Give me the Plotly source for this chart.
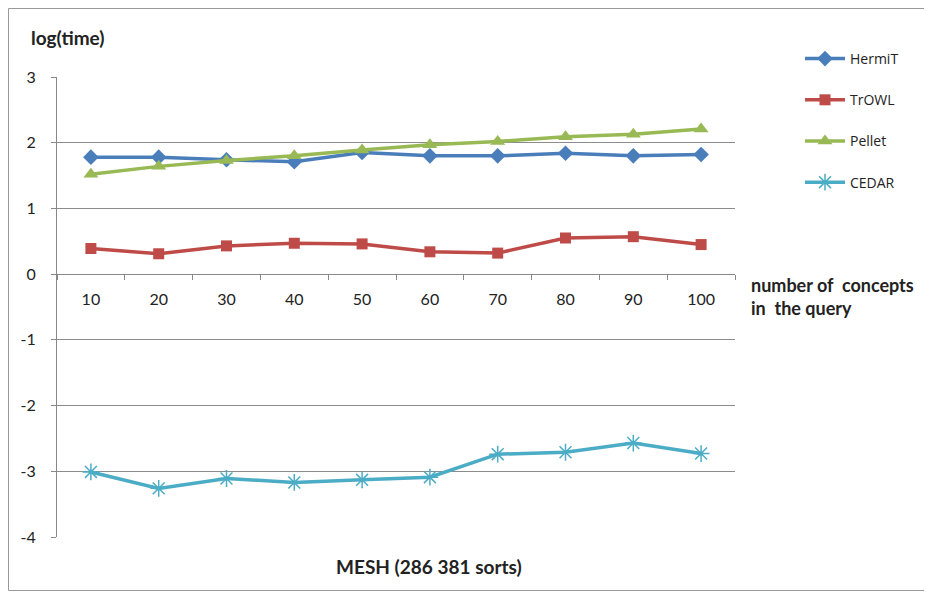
import plotly.graph_objects as go

categories = ["10", "20", "30", "40", "50", "60", "70", "80", "90", "100"]
hermit = [1.78, 1.78, 1.74, 1.71, 1.85, 1.80, 1.80, 1.84, 1.80, 1.82]
trowl = [0.39, 0.31, 0.43, 0.47, 0.46, 0.34, 0.32, 0.55, 0.57, 0.45]
pellet = [1.52, 1.64, 1.73, 1.80, 1.89, 1.97, 2.02, 2.09, 2.13, 2.21]
cedar = [-3.01, -3.26, -3.11, -3.17, -3.13, -3.09, -2.74, -2.71, -2.57, -2.73]
y_ticks = [-4, -3, -2, -1, 0, 1, 2, 3]
y_tick_labels = [str(v) for v in y_ticks]

# page has an 8px body margin; work in page coordinates and compensate
OFF = 8
W, H = 932 - OFF, 596 - OFF
L, R, T, B = 57, 735, 77, 537  # page coords of plot area
pw, ph = R - L, B - T

def px(x):
    return (x - L) / pw

def py(y):
    return (B - y) / ph

FONT = "Lato, 'Open Sans', sans-serif"

fig = go.Figure()
series = [
    ("HermiT", hermit, "#4A7EBB", "diamond", 12, 0),
    ("TrOWL", trowl, "#BE4B48", "square", 11, 0),
    ("Pellet", pellet, "#98B954", "triangle-up", 13, 0),
    ("CEDAR", cedar, "#4BACC6", "asterisk-open", 14, 1.5),
]
for name, vals, col, sym, sz, lw in series:
    fig.add_trace(go.Scatter(
        x=categories, y=vals, name=name, mode="lines+markers",
        legendgroup=name,
        line=dict(color=col, width=3.5),
        marker=dict(symbol=sym, size=sz, color=col,
                    line=dict(color=col, width=lw)),
    ))

fig.update_layout(
    width=W, height=H,
    margin=dict(l=L - OFF, r=W - (R - OFF), t=T - OFF, b=H - (B - OFF), autoexpand=False),
    paper_bgcolor="white", plot_bgcolor="white",
    font=dict(family=FONT, size=15, color="#222"),
    showlegend=True,
    legend=dict(x=px(800), y=py(43), xanchor="left", yanchor="top",
                font=dict(family="'Open Sans', sans-serif", size=14, color="#222"),
                tracegroupgap=20,
                bgcolor="rgba(0,0,0,0)", itemwidth=40),
    xaxis=dict(
        type="category", anchor="free", position=4 / 7,
        showline=True, linecolor="#888", linewidth=1,
        ticks="outside", ticklen=5, tickcolor="#888", tickson="boundaries",
        showgrid=False, zeroline=False, range=[-0.5, 9.5],
        ticklabelstandoff=11,
        tickfont=dict(size=16, color="#222"),
    ),
    yaxis=dict(
        range=[-4, 3], tickvals=y_ticks, ticktext=y_tick_labels,
        showline=True, linecolor="#888", linewidth=1,
        ticks="outside", ticklen=5, tickcolor="#888",
        showgrid=True, gridcolor="#8c8c8c", gridwidth=1,
        zeroline=False, ticklabelstandoff=12,
        tickfont=dict(size=16, color="#222"),
    ),
    shapes=[dict(type="rect", xref="paper", yref="paper",
                 x0=px(8.5), x1=px(931), y0=py(590.5), y1=py(8.5),
                 line=dict(color="#999", width=1), fillcolor="rgba(0,0,0,0)",
                 layer="below")],
    annotations=[
        dict(text="<b>log(time)</b>", xref="paper", yref="paper",
             x=px(29), y=py(37), xanchor="left", yanchor="middle",
             showarrow=False, font=dict(size=19, color="#222")),
        dict(text="<b>number of  concepts<br>in  the query</b>", xref="paper", yref="paper",
             x=px(749), y=py(296), xanchor="left", yanchor="middle", align="left",
             showarrow=False, font=dict(size=18, color="#222")),
        dict(text="<b>MESH (286 381 sorts)</b>", xref="paper", yref="paper",
             x=px(429), y=py(566), xanchor="center", yanchor="middle",
             showarrow=False, font=dict(size=19, color="#222")),
    ],
)

fig.write_html("out.html")
